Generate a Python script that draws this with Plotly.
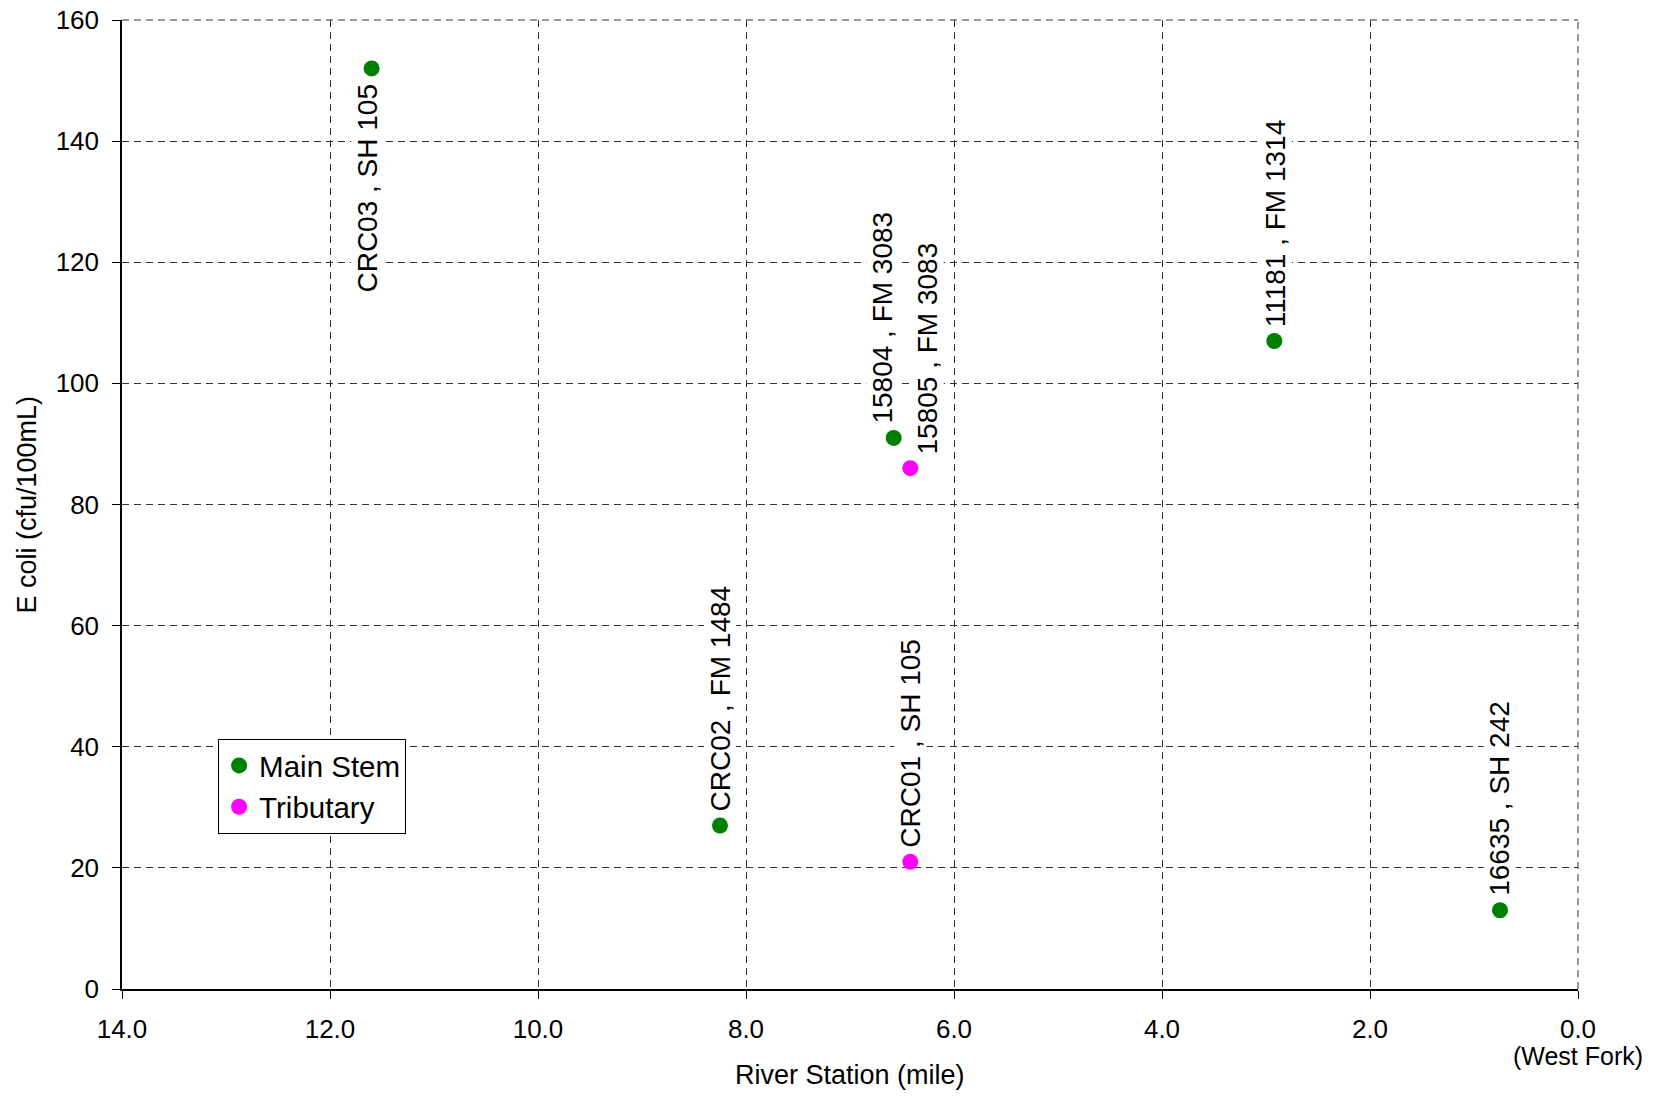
import plotly.graph_objects as go

# Data
main_x = [11.6, 8.25, 6.58, 2.92, 0.75]
main_y = [152, 27, 91, 107, 13]
main_labels = ["CRC03 , SH 105", "CRC02 , FM 1484", "15804 , FM 3083", "11181 , FM 1314", "16635 , SH 242"]
trib_x = [6.42, 6.42]
trib_y = [86, 21]
trib_labels = ["15805 , FM 3083", "CRC01 , SH 105"]
x_ticks = [14, 12, 10, 8, 6, 4, 2, 0]
y_ticks = [0, 20, 40, 60, 80, 100, 120, 140, 160]

FONT = "Liberation Sans, Arial, sans-serif"
GREEN = "#008000"
MAGENTA = "#FF00FF"
GRID = "#333333"
DASH = "7px,5px"

# label horizontal nudges (px) to keep neighbouring labels apart
main_xshift = [-4, 0, -11, 2, 0]
trib_xshift = [17, 0]

fig = go.Figure()
fig.add_trace(go.Scatter(x=main_x, y=main_y, mode="markers", name="Main Stem",
                         marker=dict(color=GREEN, size=16)))
fig.add_trace(go.Scatter(x=trib_x, y=trib_y, mode="markers", name="Tributary",
                         marker=dict(color=MAGENTA, size=16)))

annotations = []
for xs, ys, labs, shifts in [(main_x, main_y, main_labels, main_xshift),
                             (trib_x, trib_y, trib_labels, trib_xshift)]:
    for x, y, t, s in zip(xs, ys, labs, shifts):
        top = y > 140
        annotations.append(dict(
            x=x, y=y, xref="x", yref="y", text=t, showarrow=False,
            textangle=-90, xanchor="center",
            yanchor="top" if top else "bottom",
            yshift=-14 if top else 13, xshift=s,
            bgcolor="white", borderpad=0,
            font=dict(family=FONT, size=28, color="black")))

annotations.append(dict(x=0, y=0, xref="x", yref="y", text="(West Fork)", showarrow=False,
                        xanchor="center", yanchor="middle", yshift=-67,
                        font=dict(family=FONT, size=25, color="black")))
# axis titles
annotations.append(dict(x=0.5, y=-0.0888, xref="paper", yref="paper", text="River Station (mile)",
                        showarrow=False, xanchor="center", yanchor="middle",
                        font=dict(family=FONT, size=27, color="black")))
annotations.append(dict(x=-0.0659, y=0.5, xref="paper", yref="paper", text="E coli (cfu/100mL)",
                        showarrow=False, xanchor="center", yanchor="middle", textangle=-90,
                        font=dict(family=FONT, size=27, color="black")))

# dashed top and right frame (grid lines at the range ends)
shapes = [
    dict(type="line", xref="paper", yref="paper", x0=0, x1=1, y0=1, y1=1,
         line=dict(color=GRID, width=1, dash=DASH), layer="below"),
    dict(type="line", xref="paper", yref="paper", x0=1, x1=1, y0=0, y1=1,
         line=dict(color=GRID, width=1, dash=DASH), layer="below"),
]

axis_common = dict(
    showgrid=True, gridcolor=GRID, gridwidth=1, griddash=DASH,
    showline=True, linecolor="black", linewidth=1.5,
    ticks="outside", ticklen=8, tickcolor="black", tickwidth=1,
    zeroline=False, mirror=False, automargin=False,
    ticklabeloverflow="allow",
    tickfont=dict(family=FONT, size=26, color="black"),
)

fig.update_layout(
    width=1662, height=1096,
    margin=dict(l=122, r=84, t=20, b=107),
    paper_bgcolor="white", plot_bgcolor="white",
    font=dict(family=FONT, color="black"),
    annotations=annotations,
    shapes=shapes,
    legend=dict(x=0.066, y=0.2583, xanchor="left", yanchor="top",
                bordercolor="black", borderwidth=1, bgcolor="white",
                font=dict(family=FONT, size=29.5, color="black"),
                itemwidth=30, tracegroupgap=0),
    xaxis=dict(range=[14, 0], tickvals=x_ticks,
               ticktext=[f"{v:.1f}" for v in x_ticks],
               ticklabelstandoff=8, **axis_common),
    yaxis=dict(range=[0, 160], tickvals=y_ticks,
               ticklabelstandoff=8, **axis_common),
)

fig.write_html("out.html", config={"displayModeBar": False},
               post_script="document.body.style.margin='0';")
